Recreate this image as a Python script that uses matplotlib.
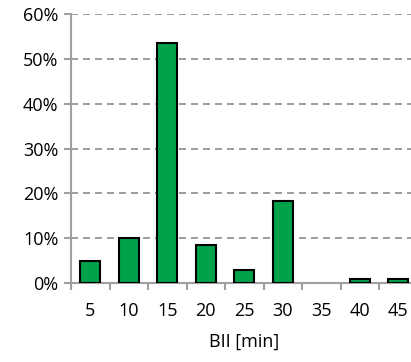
import matplotlib
matplotlib.use("Agg")
import matplotlib.pyplot as plt
from matplotlib.ticker import FixedLocator, PercentFormatter

categories = ["5", "10", "15", "20", "25", "30", "35", "40", "45"]
values = [5.0, 10.0, 53.6, 8.4, 3.0, 18.4, 0.0, 1.0, 1.0]

plt.rcParams['font.family'] = ['Open Sans', 'DejaVu Sans']

fig = plt.figure(figsize=(4.11, 3.62), dpi=100)
ax = fig.add_axes([71/411, 79/362, 346.5/411, 269/362])

x = list(range(len(categories)))
bars = ax.bar(x, values, width=0.52, color="#00A14B", edgecolor="black", linewidth=1.5, zorder=3)
for b, v in zip(bars, values):
    if v == 0:
        b.set_edgecolor("none")

ax.set_xlim(-0.5, len(categories) - 0.5)
ax.set_ylim(0, 60)
ax.set_yticks([0, 10, 20, 30, 40, 50, 60])
ax.yaxis.set_major_formatter(PercentFormatter(decimals=0))
ax.set_xticks(x)
ax.set_xticklabels(categories)
ax.xaxis.set_minor_locator(FixedLocator([i - 0.5 for i in range(len(categories) + 1)]))

ax.grid(axis="y", color="#8c8c8c", linestyle=(0, (4.2, 3)), linewidth=1.2, zorder=0)
for s in ["top", "right"]:
    ax.spines[s].set_visible(False)
for s in ["left", "bottom"]:
    ax.spines[s].set_color("#a0a0a0")
    ax.spines[s].set_linewidth(1.5)

ax.tick_params(axis="x", which="major", length=0, pad=14, labelsize=13, colors="black")
ax.tick_params(axis="x", which="minor", length=5, width=1.5, color="#a0a0a0")
ax.tick_params(axis="y", which="major", length=5, width=1.5, color="#a0a0a0", labelsize=13, labelcolor="black", pad=4)

ax.set_xlabel("BII [min]", fontsize=13, color="black", labelpad=9)

fig.savefig("out.png", dpi=100)
